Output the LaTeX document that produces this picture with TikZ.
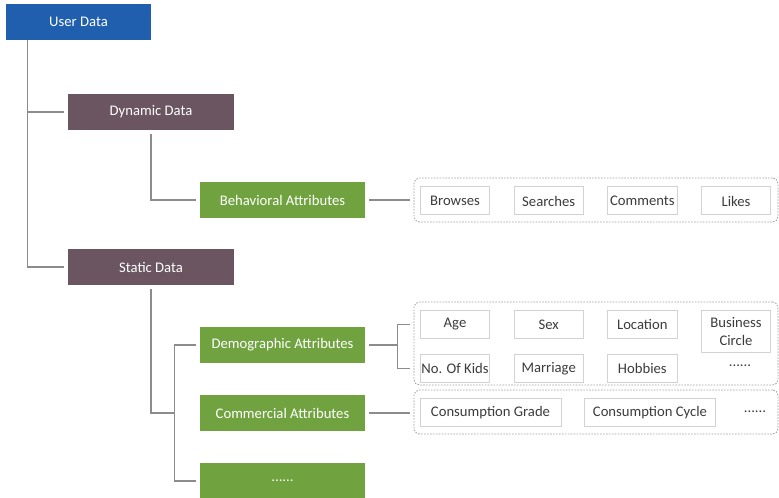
\documentclass[tikz,border=0pt]{standalone}
\usepackage{fontspec}
\setmainfont{Carlito}
\usepackage{xcolor}
\usetikzlibrary{positioning}

\definecolor{userblue}{HTML}{1F5FAE}
\definecolor{datamauve}{HTML}{6A5561}
\definecolor{attrgreen}{HTML}{70A340}
\definecolor{linkgray}{HTML}{8C8C8C}
\definecolor{itemgray}{HTML}{D2D2D2}
\definecolor{groupgray}{HTML}{A0A0A0}
\definecolor{itemtext}{HTML}{3C3C3C}

\begin{document}
\begin{tikzpicture}[
  x=0.75pt, y=-0.75pt,
  font=\fontsize{11}{13}\selectfont,
  level/.style  = {rectangle, minimum height=27pt, align=center,
                   text=white, inner sep=2pt},
  rootbox/.style = {level, fill=userblue, minimum width=108.75pt},
  databox/.style = {level, fill=datamauve, minimum width=124.5pt},
  attrbox/.style = {level, fill=attrgreen, minimum width=123.75pt},
  item/.style   = {rectangle, draw=itemgray, line width=0.75pt, fill=white,
                   minimum width=52pt, minimum height=21pt, inner sep=1pt,
                   align=center, text=itemtext},
  group/.style  = {rectangle, rounded corners=4pt, draw=groupgray,
                   line width=0.6pt, dash pattern=on 1.2pt off 1pt,
                   minimum width=273pt},
  link/.style   = {draw=linkgray, line width=0.9pt},
  gap/.style    = {shorten <=3pt, shorten >=3pt}
]
\useasboundingbox (0,0) rectangle (779,498);

% ---------- tree ----------
\node[rootbox] (user) at (78.5,22)  {User Data};
\node[databox] (dyn)  at (151,112)  {Dynamic Data};
\node[databox] (stat) at (151,267)  {Static Data};

\node[attrbox] (beh)  at (282.5,200) {Behavioral Attributes};
\node[attrbox] (demo) at (282.5,345) {Demographic Attributes};
\node[attrbox] (comm) at (282.5,413) {Commercial Attributes};
\node[attrbox] (more) at (282.5,481) {......};

% ---------- attribute groups ----------
\node[group, minimum height=33pt]    (bgrp) at (596,200)   {};
\node[group, minimum height=62.25pt] (dgrp) at (596,343.5) {};
\node[group, minimum height=33pt]    (cgrp) at (596,412)   {};

% behavioral
\node[item] (browse) at (455,201)              {Browses};
\node[item, right=17.5pt of browse] (search)   {Searches};
\node[item, right=17.5pt of search] (comment)  {Comments};
\node[item, right=17.5pt of comment] (like)    {Likes};

% demographic
\node[item] (age) at (455,324.5)               {Age};
\node[item, right=17.5pt of age] (sex)         {Sex};
\node[item, right=17.5pt of sex] (loc)         {Location};
\node[item, minimum height=31.5pt, anchor=north west] (biz)
  at ([xshift=17.5pt]loc.north east)           {Business\\Circle};
\node[item, below=11.25pt of age] (kids)       {No. Of Kids};
\node[item, below=11.25pt of sex] (marry)      {Marriage};
\node[item, below=11.25pt of loc] (hobby)      {Hobbies};
\node[text=itemtext] (dmore) at (740,366)      {......};

% commercial
\node[item, minimum width=105.75pt] (cgrade) at (490.5,413) {Consumption Grade};
\node[item, minimum width=98pt, right=17pt of cgrade] (ccycle)
  {Consumption Cycle};
\node[text=itemtext] (cmore) at (755,412)      {......};

% ---------- connectors ----------
\coordinate (ut) at ([xshift=16.5pt]user.south west);
\draw[link, shorten >=3pt] (ut) |- (dyn.west);
\draw[link, shorten >=3pt] (ut) |- (stat.west);
\draw[link, gap] (dyn.south) |- (beh.west);

\coordinate (sj) at ([xshift=-18.75pt]comm.west);
\draw[link, shorten <=3pt] (stat.south) |- (sj);
\draw[link, gap] (demo.west) -| (sj) |- (more.west);

\draw[link, gap] (beh.east) -- (beh.east -| bgrp.west);
\coordinate (dj) at ([xshift=-12pt]demo.east -| dgrp.west);
\draw[link, shorten <=3pt] (demo.east) -- (dj);
\draw[link, gap] (dgrp.west |- age.center) -| (dj) |- (dgrp.west |- kids.center);
\draw[link, gap] (comm.east) -- (comm.east -| cgrp.west);

\end{tikzpicture}
\end{document}
